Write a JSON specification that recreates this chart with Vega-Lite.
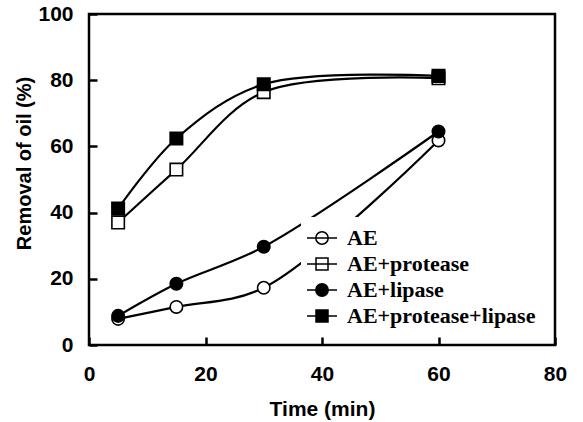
{
  "$schema": "https://vega.github.io/schema/vega-lite/v6.json",
  "autosize": {"type": "none"},
  "padding": {"left": 89, "top": 14, "right": 28, "bottom": 77},
  "width": 466,
  "height": 331,
  "background": "white",
  "config": {
    "view": {"stroke": "black", "strokeWidth": 2.5},
    "axis": {
      "domain": false,
      "grid": false,
      "labelFont": "Liberation Sans",
      "labelFontWeight": "bold",
      "labelFontSize": 21,
      "labelColor": "black",
      "labelFlush": false,
      "labelOverlap": false,
      "tickColor": "black",
      "tickWidth": 2.5,
      "tickSize": -8,
      "titleFont": "Liberation Sans",
      "titleFontWeight": "bold",
      "titleFontSize": 21,
      "titleColor": "black"
    }
  },
  "data": {
    "values": [
      {"series": "AE", "time": 5, "removal": 7.9},
      {"series": "AE", "time": 15, "removal": 11.5},
      {"series": "AE", "time": 30, "removal": 17.3},
      {"series": "AE", "time": 60, "removal": 61.8},
      {"series": "AE+protease", "time": 5, "removal": 37.0},
      {"series": "AE+protease", "time": 15, "removal": 53.0},
      {"series": "AE+protease", "time": 30, "removal": 76.4},
      {"series": "AE+protease", "time": 60, "removal": 80.6},
      {"series": "AE+lipase", "time": 5, "removal": 8.8},
      {"series": "AE+lipase", "time": 15, "removal": 18.5},
      {"series": "AE+lipase", "time": 30, "removal": 29.7},
      {"series": "AE+lipase", "time": 60, "removal": 64.5},
      {"series": "AE+protease+lipase", "time": 5, "removal": 41.2},
      {"series": "AE+protease+lipase", "time": 15, "removal": 62.4},
      {"series": "AE+protease+lipase", "time": 30, "removal": 78.8},
      {"series": "AE+protease+lipase", "time": 60, "removal": 81.3}
    ]
  },
  "encoding": {
    "x": {
      "field": "time", "type": "quantitative",
      "scale": {"domain": [0, 80], "nice": false},
      "axis": {"values": [0, 20, 40, 60, 80], "title": "Time (min)", "labelPadding": 26, "titlePadding": 14}
    },
    "y": {
      "field": "removal", "type": "quantitative",
      "scale": {"domain": [0, 100], "nice": false},
      "axis": {"values": [0, 20, 40, 60, 80, 100], "title": "Removal of oil (%)", "labelPadding": 24, "titlePadding": 3, "titleFontSize": 20, "titleY": 149}
    }
  },
  "layer": [
    {
      "mark": {"type": "line", "interpolate": "catmull-rom", "color": "black", "strokeWidth": 2.2},
      "encoding": {"detail": {"field": "series"}}
    },
    {
      "transform": [{"filter": "datum.series == 'AE' || datum.series == 'AE+lipase'"}],
      "mark": {"type": "point", "shape": "circle", "size": 155, "stroke": "black", "strokeWidth": 1.6, "opacity": 1},
      "encoding": {
        "fill": {"condition": {"test": "datum.series == 'AE+lipase'", "value": "black"}, "value": "white"}
      }
    },
    {
      "transform": [{"filter": "datum.series == 'AE+protease' || datum.series == 'AE+protease+lipase'"}],
      "mark": {"type": "point", "shape": "square", "size": 155, "stroke": "black", "strokeWidth": 1.6, "opacity": 1},
      "encoding": {
        "fill": {"condition": {"test": "datum.series == 'AE+protease+lipase'", "value": "black"}, "value": "white"}
      }
    },
    {
      "transform": [{"filter": "false"}],
      "mark": {"type": "point", "size": 400, "stroke": "black", "strokeWidth": 1.8, "opacity": 1},
      "encoding": {
        "shape": {
          "field": "series", "type": "nominal",
          "scale": {
            "domain": ["AE", "AE+protease", "AE+lipase", "AE+protease+lipase"],
            "range": [
              "M-1.5,0H1.5M-0.62,0A0.62,0.62,0,1,0,0.62,0A0.62,0.62,0,1,0,-0.62,0Z",
              "M-1.5,0H1.5M-0.6,-0.6H0.6V0.6H-0.6Z",
              "M-1.5,0H1.5M-0.62,0A0.62,0.62,0,1,0,0.62,0A0.62,0.62,0,1,0,-0.62,0Z",
              "M-1.5,0H1.5M-0.6,-0.6H0.6V0.6H-0.6Z"
            ]
          },
          "legend": {
            "orient": "none", "legendX": 212, "legendY": 203, "title": null, "padding": 10,
            "fillColor": "white",
            "rowPadding": 4, "labelOffset": 14, "symbolSize": 400,
            "labelFont": "Liberation Serif", "labelFontWeight": "bold",
            "labelFontSize": 22, "labelColor": "black", "labelLimit": 400,
            "encode": {"symbols": {"update": {"stroke": {"value": "black"}, "strokeWidth": {"value": 1.8}, "opacity": {"value": 1}}}}
          }
        },
        "fill": {
          "field": "series", "type": "nominal",
          "scale": {
            "domain": ["AE", "AE+protease", "AE+lipase", "AE+protease+lipase"],
            "range": ["white", "white", "black", "black"]
          },
          "legend": {
            "orient": "none", "legendX": 212, "legendY": 203, "title": null, "padding": 10,
            "fillColor": "white",
            "rowPadding": 4, "labelOffset": 14, "symbolSize": 400,
            "labelFont": "Liberation Serif", "labelFontWeight": "bold",
            "labelFontSize": 22, "labelColor": "black", "labelLimit": 400,
            "encode": {"symbols": {"update": {"stroke": {"value": "black"}, "strokeWidth": {"value": 1.8}, "opacity": {"value": 1}}}}
          }
        }
      }
    }
  ]
}
